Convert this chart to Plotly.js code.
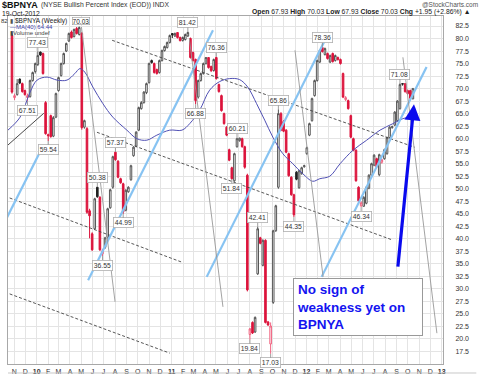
<!DOCTYPE html>
<html><head><meta charset="utf-8">
<script src="https://cdn.plot.ly/plotly-3.0.1.min.js"></script>
<style>html,body{margin:0;padding:0;background:#fff;}#chart{width:480px;height:378px;}</style>
</head><body><div id="chart"></div>
<script>
// ---- weekly candles (week starting dates generated from the first week) ----
const firstWeek = '2009-10-26';
const opens = [80.6,68.2,68.8,71.9,71.0,69.6,68.2,68.4,71.6,73.4,
74.8,77.3,77.0,67.2,60.8,64.6,60.5,64.3,69.6,72.6,
75.0,77.5,79.5,81.3,80.4,82.0,80.8,81.0,62.3,62.0,
45.6,41.0,42.0,50.3,48.3,37.0,38.3,40.3,46.2,50.3,
57.3,55.5,52.0,51.0,45.7,49.4,51.8,56.6,58.5,61.7,
66.0,67.2,69.2,71.2,75.6,75.0,73.8,73.2,75.6,77.6,
78.2,79.2,81.0,80.5,81.2,80.2,79.6,79.8,80.5,80.0,
77.2,75.8,68.3,71.6,73.0,75.0,76.2,74.4,73.6,76.2,
70.8,68.6,65.0,62.3,57.8,54.2,51.6,58.4,59.6,60.0,
58.4,52.7,20.9,23.3,21.4,33.0,40.2,34.7,39.7,23.4,
19.0,27.3,41.6,50.3,65.0,63.4,61.7,57.0,52.3,48.8,
53.3,50.2,53.0,54.4,57.0,60.7,63.6,68.6,71.6,75.3,
78.2,76.8,77.0,75.3,77.0,75.6,76.2,75.8,73.0,67.8,
67.6,64.6,60.0,57.7,50.3,46.6,46.5,47.1,50.1,52.7,
54.7,56.0,52.8,55.3,56.0,57.0,60.2,62.2,62.7,63.6,
66.0,71.0,71.0,69.6,69.6,67.93];
const highs = [81.0,69.0,71.9,72.0,71.2,69.8,69.0,71.8,73.4,75.2,
77.43,77.4,77.2,67.5,61.0,64.8,64.5,69.2,72.4,75.2,
77.2,79.2,81.2,81.6,82.0,82.3,82.4,81.3,63.8,62.3,
46.0,41.3,48.2,50.38,48.5,38.0,40.4,46.2,50.0,56.6,
57.37,55.7,52.2,51.2,49.9,50.5,54.8,58.5,61.5,66.4,
67.5,69.5,71.2,75.2,75.8,75.2,74.0,75.8,77.8,78.6,
79.4,80.8,81.1,81.2,81.3,80.4,80.4,81.0,81.42,80.2,
77.4,76.0,71.8,73.2,75.2,76.3,76.3,74.6,76.0,76.36,
71.0,68.8,65.2,62.5,58.0,54.4,57.2,60.21,60.2,60.2,
58.6,53.0,22.2,23.5,24.5,42.41,40.4,39.9,39.9,23.6,
23.3,41.8,46.8,65.86,65.3,63.7,61.9,57.2,52.5,49.0,
53.5,53.8,54.4,54.8,58.4,63.2,68.2,71.8,75.8,77.8,
78.36,78.2,77.2,76.8,77.2,76.8,76.4,76.0,73.2,68.5,
67.8,64.8,60.2,57.9,50.5,47.5,48.5,50.5,52.9,55.2,
56.9,56.2,57.0,56.0,58.0,60.4,62.5,62.6,65.5,67.7,
71.08,71.08,71.0,69.8,69.8,70.03];
const lows = [69.0,67.7,68.6,70.9,69.2,68.6,67.51,68.2,71.4,73.0,
74.5,76.5,72.8,60.8,59.54,60.2,60.3,64.1,69.4,72.4,
74.8,77.3,79.3,80.0,80.2,80.8,80.6,61.8,62.0,45.0,
40.1,37.6,41.8,48.2,37.6,36.55,38.0,40.0,46.0,50.0,
55.6,52.1,51.0,44.99,45.5,49.2,51.6,56.4,58.3,61.5,
65.8,67.0,68.9,71.0,75.0,73.0,72.8,73.0,75.4,77.4,
78.0,79.0,80.1,80.3,80.0,79.4,79.4,79.6,80.3,76.0,
75.4,66.88,68.0,71.4,72.8,74.8,74.0,73.3,73.4,71.8,
69.2,65.4,62.8,60.5,55.5,51.84,51.4,58.2,59.4,58.2,
54.0,29.5,19.84,21.0,21.2,32.8,38.9,34.5,23.1,22.6,
17.03,27.0,41.4,50.0,61.5,61.3,57.1,52.4,48.6,44.35,
51.7,50.0,52.8,54.2,56.8,60.5,63.4,68.4,71.4,75.1,
77.2,76.6,75.8,75.1,75.2,75.4,75.6,74.8,68.1,67.5,
65.8,60.1,57.5,51.4,47.4,46.34,46.4,46.9,49.9,52.5,
54.5,54.2,52.5,55.0,55.8,56.8,60.0,62.0,62.5,63.4,
65.8,70.6,69.2,68.8,68.0,67.93];
const closes = [69.3,68.6,71.0,71.1,69.4,68.8,68.6,71.6,73.2,75.0,
76.6,76.7,73.0,61.0,60.6,60.4,64.2,69.0,72.2,75.0,
77.0,79.0,81.0,80.2,81.8,81.0,82.2,62.2,63.6,45.3,
44.6,37.8,48.0,48.4,37.8,37.6,40.2,46.0,49.8,56.4,
55.8,52.3,51.2,45.4,49.7,50.3,54.6,58.3,61.3,66.2,
67.2,69.3,71.0,75.0,75.2,73.2,73.0,75.6,77.6,78.4,
79.2,80.6,80.7,81.0,80.2,79.6,80.2,80.8,81.2,76.2,
75.6,67.6,71.6,73.0,75.0,76.2,74.2,73.6,75.8,72.0,
69.4,65.6,63.0,60.7,55.7,52.0,57.0,60.0,60.1,58.4,
54.3,29.8,22.0,21.2,24.3,42.0,39.1,39.7,23.3,22.8,
22.6,41.6,46.6,65.0,61.7,61.5,57.3,52.6,48.8,44.8,
51.9,53.6,54.2,54.6,58.2,63.0,68.0,71.6,75.6,77.6,
77.4,78.0,76.0,76.6,75.4,76.6,75.8,75.0,68.3,68.2,
66.0,60.3,57.7,51.6,47.6,47.2,48.3,50.3,52.7,55.0,
56.7,54.4,56.8,55.8,57.8,60.2,62.3,62.4,65.3,67.5,
70.8,70.9,69.4,69.0,68.08,70.03];

// ---- 40-week moving average ----
const maDates = ['2009-10-15','2009-11-17','2009-12-14','2010-01-02','2010-01-29','2010-02-25','2010-03-24',
'2010-04-14','2010-04-28','2010-05-11','2010-06-02','2010-06-29','2010-07-26','2010-09-02','2010-09-29',
'2010-10-26','2010-11-22','2010-12-27','2011-01-29','2011-02-19','2011-03-18','2011-04-14','2011-05-11',
'2011-06-07','2011-07-04','2011-07-26','2011-08-19','2011-09-10','2011-10-02','2011-10-29','2011-11-25',
'2011-12-22','2012-01-18','2012-02-06','2012-03-04','2012-04-01','2012-05-06','2012-06-12','2012-07-18',
'2012-08-22','2012-09-18','2012-10-15'];
const maValues = [61.7,64.3,69.3,71.7,72.3,71.7,71.7,73.0,74.0,73.3,70.3,67.0,64.3,61.7,60.0,59.7,60.7,61.7,61.7,
63.0,65.7,69.7,71.4,72.0,71.8,70.3,67.0,63.7,60.3,57.0,55.0,53.0,51.5,52.0,52.5,55.0,57.7,59.7,61.7,63.0,64.0,64.44];

// ---- axis ticks ----
const monthTicks = ['2009-11-01','2009-12-01','2010-01-01','2010-02-01','2010-03-01','2010-04-01','2010-05-01','2010-06-01',
'2010-07-01','2010-08-01','2010-09-01','2010-10-01','2010-11-01','2010-12-01','2011-01-01','2011-02-01','2011-03-01',
'2011-04-01','2011-05-01','2011-06-01','2011-07-01','2011-08-01','2011-09-01','2011-10-01','2011-11-01','2011-12-01',
'2012-01-01','2012-02-01','2012-03-01','2012-04-01','2012-05-01','2012-06-01','2012-07-01','2012-08-01','2012-09-01',
'2012-10-01','2012-11-01','2012-12-01','2013-01-01'];
const monthLabels = ['N','D','<b>10</b>','F','M','A','M','J','J','A','S','O','N','D','<b>11</b>','F','M','A','M','J','J','A','S','O','N','D',
'<b>12</b>','F','M','A','M','J','J','A','S','O','N','D','<b>13</b>'];
const yTicks = [17.5,20,22.5,25,27.5,30,32.5,35,37.5,40,42.5,45,47.5,50,52.5,55,57.5,60,62.5,65,67.5,70,72.5,75,77.5,80,82.5];

// ---- price labels (candle index, above/below) ----
const labelIdx  = [10,6,14,33,35,40,43,68,71,79,87,85,92,95,100,103,109,120,135,150];
const labelSide = ['hi','lo','lo','hi','lo','hi','lo','hi','lo','hi','hi','lo','lo','hi','lo','hi','lo','hi','lo','hi'];

// ---- chart annotations drawn on the chart (trend lines) ----
const trendX0 = ['2010-07-24','2010-06-13','2009-10-07','2009-10-07','2009-09-23','2009-09-23','2010-05-20','2011-04-06','2012-02-11','2010-05-02','2011-02-18','2011-12-01','2012-09-18'];
const trendY0 = [79.65,61.28,48.51,29.35,57.29,41.38,31.74,32.4,32.4,82.3,79.99,77.65,76.25];
const trendX1 = ['2012-10-20','2012-08-22','2011-01-29','2010-12-27','2010-01-20','2010-01-19','2011-04-23','2012-02-20','2012-11-21','2010-08-01','2011-05-20','2012-02-15','2012-12-19'];
const trendY1 = [58.29,39.73,35.33,17.17,65.07,58.69,81.64,79.65,74.32,27.41,26.41,32.4,21.16];
const trendKind = ['dash','dash','dash','dash','black','blue','blue','blue','blue','gray','gray','gray','gray'];

// ---------------------------------------------------------------
const dates = opens.map((_, i) => new Date(Date.parse(firstWeek + 'T00:00:00Z') + i * 7 * 864e5).toISOString().slice(0, 10));

function subset(cond) {
  const o = {x: [], open: [], high: [], low: [], close: []};
  for (let i = 0; i < opens.length; i++) {
    if (cond(i)) {
      o.x.push(dates[i]); o.open.push(opens[i]); o.high.push(highs[i]);
      o.low.push(lows[i]); o.close.push(closes[i]);
    }
  }
  return o;
}
const isRed = i => i === 0 || closes[i] < closes[i - 1];
const RED = '#dc143c', PINK = '#f0607e', DARK = '#555555';

const blk = subset(i => !isRed(i));
const red = subset(i => isRed(i));

const traces = [
  Object.assign({type: 'candlestick', name: 'up', whiskerwidth: 0, hoverinfo: 'skip',
    increasing: {line: {color: DARK, width: 1}, fillcolor: '#ffffff'},
    decreasing: {line: {color: '#222', width: 1}, fillcolor: '#222'}}, blk),
  Object.assign({type: 'candlestick', name: 'down', whiskerwidth: 0, hoverinfo: 'skip',
    increasing: {line: {color: PINK, width: 1}, fillcolor: '#ffffff'},
    decreasing: {line: {color: RED, width: 1}, fillcolor: RED}}, red),
  {type: 'scatter', mode: 'lines', x: maDates, y: maValues, line: {color: '#5050b4', width: 1, shape: 'spline', smoothing: 1}, hoverinfo: 'skip'}
];

const L = 8, R = 442.7, T = 15.6, B = 364;
const px = x => (x - L) / (R - L);
const py = y => (B - y) / (B - T);
const FONT = 'Liberation Sans, Arial, sans-serif';

const shapes = trendX0.map((x0, i) => {
  const k = trendKind[i];
  const line = k === 'dash' ? {color: '#444', width: 0.9, dash: '3px,2px'}
    : k === 'blue' ? {color: '#87c3f2', width: 2.2}
    : k === 'black' ? {color: '#333', width: 0.9}
    : {color: '#999', width: 0.9};
  return {type: 'line', xref: 'x', yref: 'y', x0: x0, y0: trendY0[i], x1: trendX1[i], y1: trendY1[i], line: line, layer: 'above'};
});
shapes.push({type: 'line', xref: 'paper', yref: 'paper', x0: px(8), x1: px(476), y0: py(373), y1: py(373), line: {color: '#c8c8c8', width: 1}});

const annotations = [];
labelIdx.forEach((idx, k) => {
  const hi = labelSide[k] === 'hi';
  const v = hi ? highs[idx] : lows[idx];
  annotations.push({x: dates[idx], y: v, xref: 'x', yref: 'y', text: v.toFixed(2), showarrow: true, arrowhead: 0,
    arrowwidth: 0.8, arrowcolor: '#888', ax: 0, ay: hi ? -9 : 9, font: {family: FONT, size: 6.8, color: '#333'},
    bgcolor: '#ffffff', bordercolor: '#b0b0b0', borderwidth: 0.8, borderpad: 1});
});
// blue arrow
annotations.push({x: '2012-10-18', y: 66.87, ax: '2012-09-04', ay: 34.14, xref: 'x', yref: 'y', axref: 'x', ayref: 'y',
  text: '', showarrow: true, arrowhead: 2, arrowsize: 1, arrowwidth: 3.2, arrowcolor: '#0a0aee'});
// comment box
annotations.push({x: '2011-11-25', y: 32.14, xref: 'x', yref: 'y', xanchor: 'left', yanchor: 'top', align: 'left',
  text: '<b>No sign of<br>weakness yet on<br>BPNYA</b>', showarrow: false,
  font: {family: FONT, size: 13.5, color: '#1414f0'}, bgcolor: '#ffffff', bordercolor: '#999', borderwidth: 1, borderpad: 3, width: 122});

const last = opens.length - 1;
const chg = closes[last] - closes[last - 1];
const pct = chg / closes[last - 1] * 100;
function txt(x, y, text, size, color, anchor) {
  annotations.push({xref: 'paper', yref: 'paper', x: px(x), y: py(y), xanchor: anchor || 'left', yanchor: 'middle',
    text: text, showarrow: false, borderpad: 0, font: {family: FONT, size: size, color: color || '#222'}});
}
txt(1, 4.6, '<b>$BPNYA</b>', 9, '#111');
txt(40, 5, '(NYSE Bullish Percent Index (EOD)) INDX', 6.8, '#333');
txt(1, 13, '19-Oct-2012', 6.8, '#222');
txt(479, 4, '@StockCharts.com', 6.5, '#555', 'right');
txt(251, 12, '<b>Open</b> ' + opens[last].toFixed(2) + ' <b>High</b> ' + highs[last].toFixed(2) + ' <b>Low</b> ' + lows[last].toFixed(2) +
  ' <b>Close</b> ' + closes[last].toFixed(2) + ' <b>Chg</b> +' + chg.toFixed(2) + ' (+' + pct.toFixed(2) + '%) ▲', 6.8, '#222');
txt(0.5, 20.3, '82', 6, '#333');
txt(9, 20.3, '▮', 6, '#555');
txt(14, 20.3, '$BPNYA (Weekly)', 6.5, '#222');
annotations.push({xref: 'paper', yref: 'paper', x: px(72), y: py(20.3), xanchor: 'left', yanchor: 'middle', text: closes[last].toFixed(2),
  showarrow: false, font: {family: FONT, size: 6.5, color: '#222'}, bordercolor: '#999', borderwidth: 0.6, borderpad: 0, bgcolor: '#fff'});
txt(9, 26.7, '—MA(40) ' + maValues[maValues.length - 1].toFixed(2), 6, '#3a3aa8');
txt(9, 33, '▮Volume undef', 6, '#444');

const layout = {
  width: 480, height: 378, paper_bgcolor: '#ffffff', plot_bgcolor: '#ffffff',
  margin: {l: L, r: 480 - R, t: T, b: 378 - B, pad: 0},
  showlegend: false, boxgap: 0.12, dragmode: false,
  font: {family: FONT, size: 7, color: '#333'},
  xaxis: {type: 'date', range: ['2009-10-15 06:00', '2013-01-04 12:00'], rangeslider: {visible: false},
    tickmode: 'array', tickvals: monthTicks, ticktext: monthLabels, showgrid: true, gridcolor: '#e4e4e4', gridwidth: 1,
    ticks: '', tickfont: {size: 7, color: '#333', family: FONT}, showline: true, linecolor: '#a8a8a8', mirror: true, zeroline: false,
    fixedrange: true, ticklabelstandoff: 1},
  yaxis: {range: [15, 84.5], side: 'right', tickmode: 'array', tickvals: yTicks, ticktext: yTicks.map(v => v.toFixed(1)),
    showgrid: true, gridcolor: '#e4e4e4', gridwidth: 1, ticks: '', tickfont: {size: 7, color: '#333', family: FONT},
    showline: true, linecolor: '#a8a8a8', mirror: true, zeroline: false, fixedrange: true, ticklabelstandoff: 10},
  shapes: shapes, annotations: annotations
};
Plotly.newPlot('chart', traces, layout, {displayModeBar: false, staticPlot: true});
</script></body></html>
